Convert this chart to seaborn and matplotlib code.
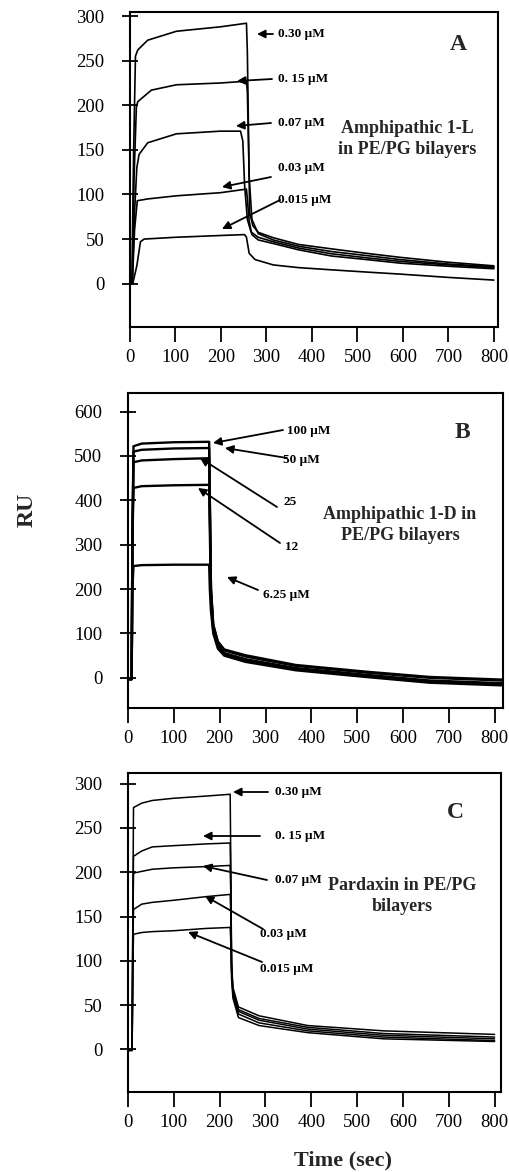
import numpy as np
import pandas as pd
import matplotlib
matplotlib.use("Agg")
import matplotlib.pyplot as plt
import seaborn as sns

# ---------------- data ----------------
# Panel A: Amphipathic 1-L in PE/PG bilayers
A_labels = ["0.30 µM", "0. 15 µM", "0.07 µM", "0.03 µM", "0.015 µM"]
A_t_030 = [0, 4, 8, 12, 17, 39, 102, 199, 256, 258, 263, 270, 282, 315, 370, 443, 520, 594, 700, 800]
A_v_030 = [0, 0, 150, 255, 262, 273, 283, 288, 292, 260, 80, 65, 57.5, 51.5, 44, 39, 34, 29.5, 24, 20]
A_t_015 = [0, 5, 9, 14, 17, 47, 102, 199, 256, 258, 262, 268, 282, 315, 370, 443, 520, 594, 700, 800]
A_v_015 = [0, 0, 120, 198, 204, 217, 223, 225, 227, 215, 120, 72, 56, 49, 42, 36, 31.5, 27, 22, 19]
A_t_007 = [0, 5, 10, 15, 20, 39, 102, 199, 243, 248, 252, 258, 266, 282, 315, 370, 443, 520, 594, 700, 800]
A_v_007 = [0, 0, 80, 130, 145, 158, 168, 171, 171, 160, 110, 72, 58, 52, 47, 40, 33.5, 29, 25, 21, 18]
A_t_003 = [0, 5, 10, 16, 39, 102, 199, 256, 258, 262, 268, 282, 315, 370, 443, 520, 594, 700, 800]
A_v_003 = [0, 0, 60, 93, 95, 98.5, 102, 106, 95, 70, 55, 49, 45, 38, 31, 27, 23, 19.5, 16.7]
A_t_0015 = [0, 6, 15, 23, 31, 100, 199, 252, 256, 262, 275, 315, 370, 443, 520, 594, 700, 800]
A_v_0015 = [0, 0, 20, 47, 50, 52, 54, 55, 52, 34, 27, 21, 18, 15.5, 13, 10.7, 7, 4]

# Panel B: Amphipathic 1-D in PE/PG bilayers
B_labels = ["100 µM", "50 µM", "25", "12", "6.25 µM"]
B_t = [0, 8, 9.5, 12, 30, 100, 177, 178.5, 181, 186, 196, 210, 256, 366, 518, 658, 815]
B_v_100 = [-3, -3, 300, 522, 528, 531, 532, 400, 200, 120, 82, 64, 51, 29, 14, 2, -4]
B_v_50 = [-3, -3, 300, 510, 514, 517, 518, 400, 200, 118, 80, 62, 48, 27, 12, 0, -6]
B_v_25 = [-3, -3, 300, 486, 490, 493, 495, 380, 190, 110, 74, 56, 42, 22, 7, -6, -12]
B_v_12 = [-3, -3, 300, 428, 432, 434, 435, 330, 180, 105, 70, 53, 39, 19, 4, -9, -15]
B_v_625 = [-3, -3, 200, 252, 254, 255, 255, 200, 150, 100, 66, 50, 36, 17, 2, -11, -17]

# Panel C: Pardaxin in PE/PG bilayers
C_labels = ["0.30 µM", "0. 15 µM", "0.07 µM", "0.03 µM", "0.015 µM"]
C_t = [0, 9, 10.5, 12, 30, 53, 100, 171, 223, 224.5, 226, 229, 241, 286, 392, 558, 800]
C_v_030 = [-1, -1, 150, 273, 278, 281, 283.5, 286, 288, 200, 100, 70, 48, 38, 27, 21, 17]
C_v_015 = [-1, -1, 140, 218, 224, 228.6, 230, 232, 233, 180, 95, 66, 45, 35, 25, 18, 14]
C_v_007 = [-1, -1, 130, 199, 201, 203.4, 205, 206.4, 207.7, 170, 92, 64, 43, 33, 23, 16, 12]
C_v_003 = [-1, -1, 110, 158, 164, 166, 168.4, 172.5, 175, 150, 88, 62, 40, 30, 21, 14, 10]
C_v_0015 = [-1, -1, 90, 130, 132, 133, 134, 136.6, 137.7, 120, 80, 58, 36, 27, 19, 12, 9]

A_xticks = [0, 100, 200, 300, 400, 500, 600, 700, 800]
A_yticks = [0, 50, 100, 150, 200, 250, 300]
B_yticks = [0, 100, 200, 300, 400, 500, 600]
C_yticks = [0, 50, 100, 150, 200, 250, 300]

# ---------------- build long tables ----------------
def table(series):
    rows = []
    for name, t, v in series:
        for ti, vi in zip(t, v):
            rows.append((name, ti, vi))
    return pd.DataFrame(rows, columns=["conc", "t", "RU"])

dfA = table([(A_labels[0], A_t_030, A_v_030), (A_labels[1], A_t_015, A_v_015),
             (A_labels[2], A_t_007, A_v_007), (A_labels[3], A_t_003, A_v_003),
             (A_labels[4], A_t_0015, A_v_0015)])
dfB = table([(B_labels[0], B_t, B_v_100), (B_labels[1], B_t, B_v_50),
             (B_labels[2], B_t, B_v_25), (B_labels[3], B_t, B_v_12),
             (B_labels[4], B_t, B_v_625)])
dfC = table([(C_labels[0], C_t, C_v_030), (C_labels[1], C_t, C_v_015),
             (C_labels[2], C_t, C_v_007), (C_labels[3], C_t, C_v_003),
             (C_labels[4], C_t, C_v_0015)])

# ---------------- style ----------------
sns.set_theme(style="white")
plt.rcParams["font.family"] = ["Liberation Serif", "DejaVu Serif"]

W, H = 510, 1172
fig = plt.figure(figsize=(W / 100, H / 100), dpi=100)

def box(l, t, r, b):
    return [l / W, 1 - b / H, (r - l) / W, (b - t) / H]

def P(x, y):
    return (x / W, 1 - y / H)

axA = fig.add_axes(box(130, 12, 498, 327))
axB = fig.add_axes(box(128, 393, 503, 708))
axC = fig.add_axes(box(128, 773, 501, 1092))

specs = [
    (axA, dfA, (0, 809), (-48.6, 304.6), A_yticks, 1.2),
    (axB, dfB, (0, 818), (-68, 642), B_yticks, 1.7),
    (axC, dfC, (0, 814), (-48, 312), C_yticks, 1.1),
]
for ax, df, xl, yl, yt, lw in specs:
    sns.lineplot(data=df, x="t", y="RU", units="conc", estimator=None, sort=False,
                 color="black", lw=lw, ax=ax, legend=False)
    ax.set_xlim(*xl)
    ax.set_ylim(*yl)
    ax.set_xticks(A_xticks)
    ax.set_yticks(yt)
    ax.set_xlabel("")
    ax.set_ylabel("")
    for s in ax.spines.values():
        s.set_visible(True)
        s.set_color("black")
        s.set_linewidth(1.5)
    ax.tick_params(axis="x", direction="out", length=11, width=1.3, pad=5,
                   labelsize=13.5, colors="black", bottom=True)
    ax.tick_params(axis="y", direction="inout", length=11, width=1.3, pad=13,
                   labelsize=13.5, colors="black", left=True)

# ---------------- annotations ----------------
arrow = dict(arrowstyle="-|>", color="black", lw=1.3, mutation_scale=12,
             shrinkA=0, shrinkB=0)

def label(text, txy, tail, head, size=9.5):
    fig.text(*P(*txy), text, ha="left", va="center", fontsize=size,
             fontweight="bold", color="black")
    fig.add_artist(matplotlib.patches.FancyArrowPatch(
        P(*tail), P(*head), transform=fig.transFigure, **arrow))

# Panel A
label(A_labels[0], (278, 34), (273, 34), (257, 34))
label(A_labels[1], (278, 79), (272, 79), (237, 81))
label(A_labels[2], (278, 123), (271, 123), (236, 126))
label(A_labels[3], (278, 168), (271, 177), (222, 187))
label(A_labels[4], (278, 200), (280, 200), (222, 229))
fig.text(*P(458, 45), "A", ha="center", va="center", fontsize=17, fontweight="bold")
fig.text(*P(407, 139), "Amphipathic 1-L\nin PE/PG bilayers", ha="center", va="center",
         fontsize=13, fontweight="bold", linespacing=1.3)

# Panel B
label(B_labels[0], (287, 431), (283, 430), (213, 443))
label(B_labels[1], (283, 460), (287, 458), (225, 448))
label(B_labels[2], (283, 502), (277, 507), (200, 458))
label(B_labels[3], (285, 547), (280, 543), (198, 488))
label(B_labels[4], (263, 595), (258, 590), (227, 577))
fig.text(*P(462, 433), "B", ha="center", va="center", fontsize=17, fontweight="bold")
fig.text(*P(400, 525), "Amphipathic 1-D in\nPE/PG bilayers", ha="center", va="center",
         fontsize=13, fontweight="bold", linespacing=1.3)

# Panel C
label(C_labels[0], (275, 792), (268, 792), (233, 792))
label(C_labels[1], (275, 836), (260, 836), (203, 836))
label(C_labels[2], (275, 880), (267, 880), (203, 866))
label(C_labels[3], (260, 934), (263, 929), (205, 896))
label(C_labels[4], (260, 969), (262, 962), (188, 932))
fig.text(*P(455, 813), "C", ha="center", va="center", fontsize=17, fontweight="bold")
fig.text(*P(402, 896), "Pardaxin in PE/PG\nbilayers", ha="center", va="center",
         fontsize=13, fontweight="bold", linespacing=1.3,
         bbox=dict(facecolor="white", edgecolor="none", pad=2))

# Shared axis titles
fig.text(*P(27, 510), "RU", rotation=90, ha="center", va="center", fontsize=17,
         fontweight="bold")
fig.text(*P(343, 1160), "Time (sec)", ha="center", va="center", fontsize=16,
         fontweight="bold")

fig.savefig("out.png", dpi=100, facecolor="white")
